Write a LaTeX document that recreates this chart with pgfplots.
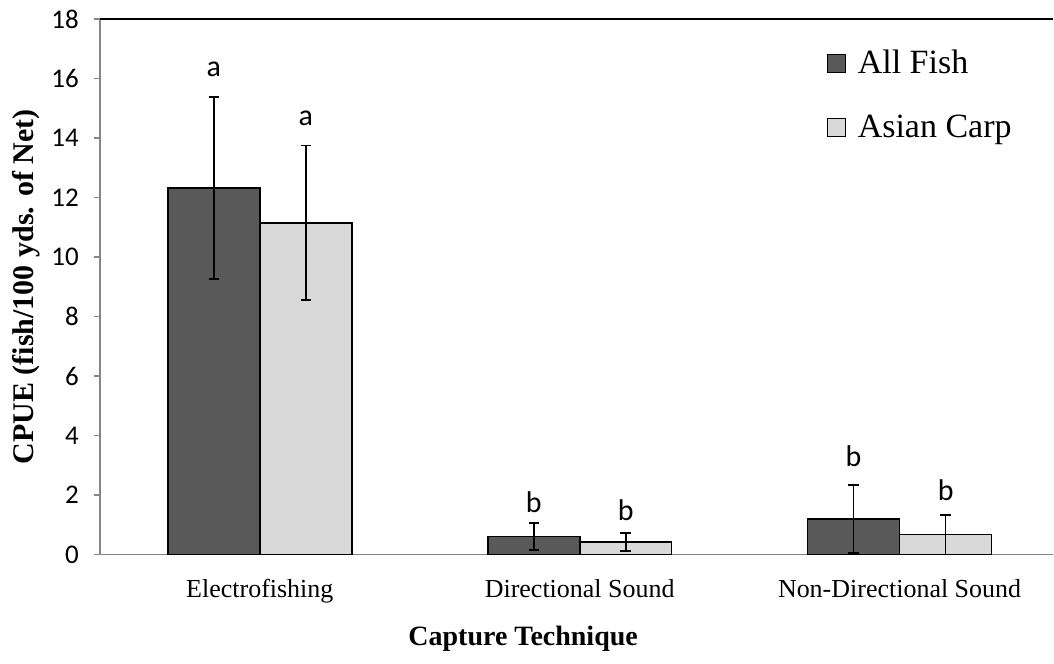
\documentclass[border=0pt]{standalone}
\usepackage{pgfplots}
\pgfplotsset{compat=1.18}
\usepackage{fontspec}
\setmainfont{Liberation Serif}
\newfontfamily\calibri{Carlito}

\definecolor{darkbar}{RGB}{89,89,89}
\definecolor{lightbar}{RGB}{217,217,217}
\definecolor{axisgray}{RGB}{134,134,134}

\begin{document}
\begin{tikzpicture}
\begin{axis}[
  scale only axis,
  width=477pt, height=268pt,
  xmin=-0.5, xmax=2.48,
  ymin=0, ymax=18,
  ytick={0,2,...,18},
  xtick={0,1,2},
  xticklabels={Electrofishing,Directional Sound,Non-Directional Sound},
  axis x line*=bottom,
  axis y line*=left,
  axis line style={draw=axisgray, line width=0.9pt},
  x axis line style={-},
  y axis line style={-},
  x tick style={draw=none},
  y tick style={draw=axisgray, line width=0.9pt},
  major tick length=3pt,
  tick align=outside,
  /pgf/number format/assume math mode=true,
  yticklabel style={font=\calibri\fontsize{13.5}{16}\selectfont, xshift=-4pt},
  xticklabel style={font=\fontsize{13}{15}\selectfont, yshift=-6pt},
  ylabel={\textbf{CPUE (fish/100 yds. of Net)}},
  ylabel style={font=\fontsize{15}{18}\selectfont, at={(axis description cs:-0.077,0.5)}, anchor=center},
  xlabel={\textbf{Capture Technique}},
  xlabel style={font=\fontsize{14}{17}\selectfont, at={(axis description cs:0.444,-0.158)}, anchor=center},
  ybar=0pt,
  bar width=0.2875,
  clip=false,
  legend style={draw=none, fill=none, at={(axis description cs:0.762,0.95)}, anchor=north west,
    font=\fontsize{17}{20}\selectfont, row sep=15pt, column sep=4pt, inner sep=0pt},
  legend cell align=left,
  legend image code/.code={\draw[#1,draw=black,line width=0.6pt] (0pt,-4.5pt) rectangle (9pt,4.5pt);},
  error bars/error bar style={black, line width=0.9pt},
  error bars/error mark options={rotate=90, black, line width=0.9pt, mark size=2.6pt},
]
\addplot[fill=darkbar, draw=black, line width=0.8pt,
  error bars/.cd, y dir=both, y explicit]
  coordinates {
    (0, 12.32) +- (0, 3.06)
    (1, 0.60) +- (0, 0.46)
    (2, 1.20) +- (0, 1.14)
  };
\addlegendentry{All Fish}
\addplot[fill=lightbar, draw=black, line width=0.8pt,
  error bars/.cd, y dir=both, y explicit]
  coordinates {
    (0, 11.15) +- (0, 2.60)
    (1, 0.43) +- (0, 0.30)
    (2, 0.67) +- (0, 0.67)
  };
\addlegendentry{Asian Carp}

% top border of the plot area
\draw[black, line width=0.9pt] (rel axis cs:0,1) -- (rel axis cs:1,1);

% significance letters
\begin{scope}[every node/.style={font=\calibri\fontsize{15}{17}\selectfont}]
  \node at (axis cs:-0.144,16.3) {a};
  \node at (axis cs:0.144,14.65) {a};
  \node at (axis cs:0.856,1.75) {b};
  \node at (axis cs:1.144,1.5) {b};
  \node at (axis cs:1.856,3.3) {b};
  \node at (axis cs:2.144,2.15) {b};
\end{scope}

% fix the picture's extent to the reference proportions
\path (axis description cs:-0.1048,-0.2034) rectangle (axis description cs:1,1.0354);
\end{axis}
\end{tikzpicture}
\end{document}
